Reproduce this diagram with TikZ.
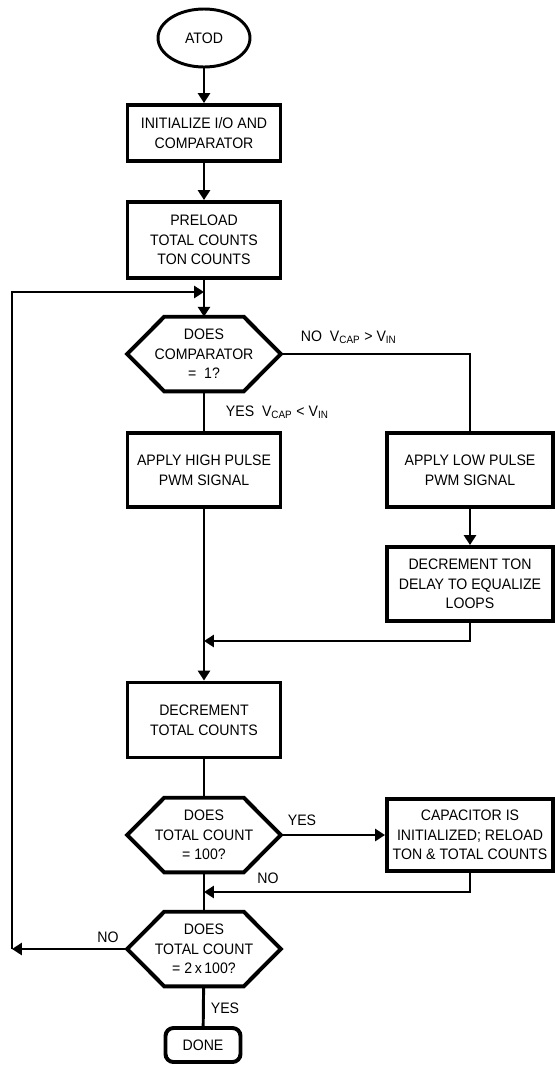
\documentclass[tikz,border=0pt]{standalone}
\usepackage{fontspec}
\setmainfont{Liberation Sans}[FakeStretch=0.93]
\usetikzlibrary{arrows.meta, shapes.geometric}

\begin{document}
\begin{tikzpicture}[x=0.25mm, y=-0.25mm,
    font=\fontsize{10.8}{13.9}\selectfont,
    proc/.style={draw, line width=2.8pt, align=center, inner sep=0pt, minimum width=38.25mm, minimum height=18.5mm},
    procw/.style={proc, minimum width=41.5mm},
    decision/.style={align=center, inner sep=0pt, minimum width=38.25mm, minimum height=18.5mm},
    flow/.style={line width=2.1pt},
    flowarr/.style={flow, -{Triangle[length=7pt, width=8.5pt]}}]
    \useasboundingbox (0,0) rectangle (555,1066);

    \node[ellipse, draw, line width=2.1pt, minimum width=23mm, minimum height=14.5mm] (atod) at (204,38) {ATOD};
    \node[proc, minimum height=14mm] (init) at (204,133) {INITIALIZE I/O AND\\COMPARATOR};
    \node[proc, minimum height=19mm] (preload) at (204,240) {PRELOAD\\TOTAL COUNTS\\TON COUNTS};
    \node[decision] (cmp) at (204,354) {DOES\\COMPARATOR\\=~~1?};
    \node[proc] (high) at (204,470) {APPLY HIGH PULSE\\PWM SIGNAL};
    \node[procw] (low) at (470,470) {APPLY LOW PULSE\\PWM SIGNAL};
    \node[procw] (dton) at (470,584) {DECREMENT TON\\DELAY TO EQUALIZE\\LOOPS};
    \node[proc, minimum height=18.75mm] (dtot) at (204,720) {DECREMENT\\TOTAL COUNTS};
    \node[decision] (tc100) at (204,835) {DOES\\TOTAL COUNT\\=~100?};
    \node[procw, minimum height=18mm] (cap) at (470,835) {CAPACITOR IS\\INITIALIZED; RELOAD\\TON \& TOTAL COUNTS};
    \node[decision] (tc200) at (204,949) {DOES\\TOTAL COUNT\\=~2\,x\,100?};
    \node[draw, line width=2.8pt, rounded corners=2mm, minimum width=18.75mm, minimum height=8.5mm] (done) at (203,1045) {DONE};

    \foreach \n in {cmp,tc100,tc200}
        \draw[line width=2.8pt] (\n.west) -- ([xshift=9.25mm]\n.north west) -- ([xshift=-9.25mm]\n.north east)
            -- (\n.east) -- ([xshift=-9.25mm]\n.south east) -- ([xshift=9.25mm]\n.south west) -- cycle;

    \coordinate (loop) at (12,949);
    \coordinate (loopin) at (204,292);
    \coordinate (merge1) at (204,641);
    \coordinate (merge2) at (204,892);

    \draw[flowarr] (atod) -- (init);
    \draw[flowarr] (init) -- (preload);
    \draw[flowarr] (preload) -- (cmp);
    \draw[flow] (cmp) -- (high);
    \draw[flow] (cmp.east) -| (low.north);
    \draw[flowarr] (low) -- (dton);
    \draw[flowarr] (high) -- (dtot);
    \draw[flowarr] (dton.south) |- (merge1);
    \draw[flow] (dtot) -- (tc100);
    \draw[flowarr] (tc100.east) -- (cap.west);
    \draw[flowarr] (cap.south) |- (merge2);
    \draw[flow] (tc100) -- (tc200);
    \draw[flowarr] (tc200.west) -- (loop);
    \draw[flowarr] (loop) |- (loopin);
    \draw[flow] (tc200) -- (done);

    \node[anchor=west] (nocap) at (296,337) {NO~~V\textsubscript{CAP} > V\textsubscript{IN}};
    \node[anchor=west] (yescap) at (221,412) {YES~~V\textsubscript{CAP} < V\textsubscript{IN}};
    \node (yes100) at (302,820) {YES};
    \node (no100) at (268,878) {NO};
    \node (no200) at (108,937) {NO};
    \node (yes200) at (225,1008) {YES};
\end{tikzpicture}
\end{document}
